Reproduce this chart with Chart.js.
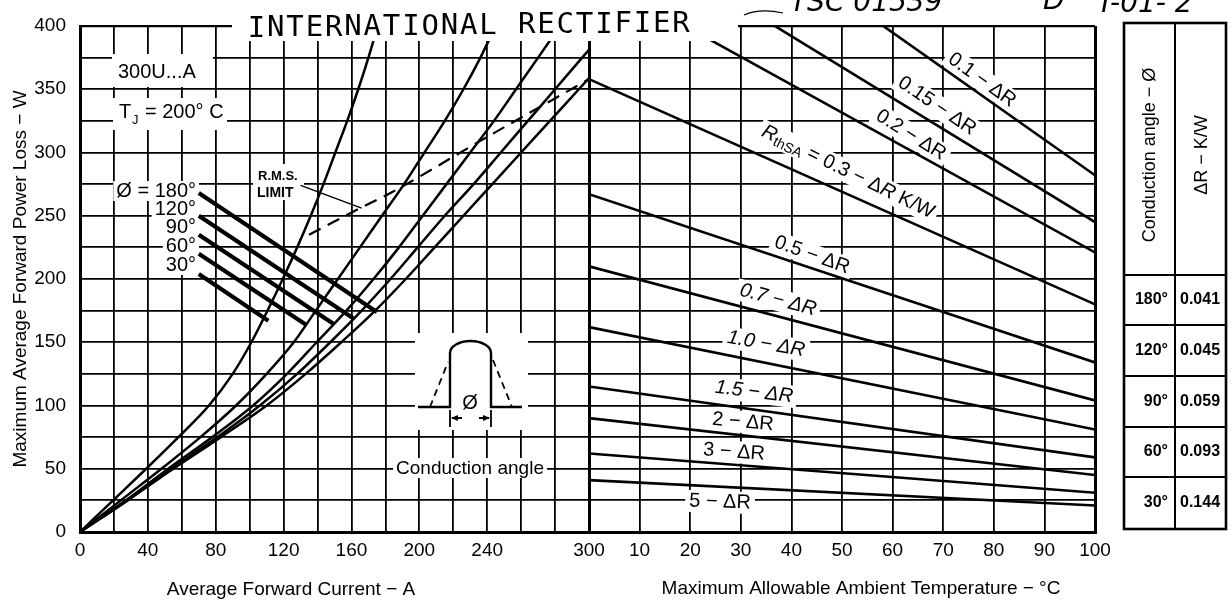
<!DOCTYPE html>
<html>
<head>
<meta charset="utf-8">
<script src="https://cdn.jsdelivr.net/npm/chart.js@4.4.0/dist/chart.umd.min.js"></script>
<style>
  html, body { margin: 0; padding: 0; background: #fff; }
  #wrap { position: relative; width: 1232px; height: 603px; }
  #wrap canvas { position: absolute; left: 0; top: 0; }
</style>
</head>
<body>
<div id="wrap">
  <canvas id="leftChart" width="1232" height="603"></canvas>
  <canvas id="rightChart" width="1232" height="603"></canvas>
</div>
<script>
// ---- left panel: power loss vs average current ----
const lossLevels = [0, 25, 50, 75, 100, 125, 150, 175, 200, 225, 250, 275, 300, 325, 350, 375, 400];
const current30  = [0, 19.5, 39, 58, 76, 90, 101, 110.5, 119.5, 128, 136, 143.5, 150.5, 157.5, 164, 170, 175.5];
const current60  = [0, 24, 48, 71, 92, 110, 126, 139, 152, 165, 178, 191, 203, 215, 226, 236, 245];
const current90  = [0, 27, 52, 78, 102, 122, 139.5, 157, 173, 188, 202, 216, 230, 244, 257, 270, 283];
const current120 = [0, 28, 54, 81, 106, 128, 147.5, 166, 183, 199, 215, 232, 248, 264, 280, 296, 312];
const current180 = [0, 28, 55, 83, 110, 133, 154, 174, 192, 209, 226, 243, 260, 277, 294, 311];

// short leader lines from the angle labels to their curves
const leaderAngles = ['30°', '60°', '90°', '120°', '180°'];
const leaderStartA = [70, 70, 70, 70, 70];
const leaderStartW = [204, 220, 235, 250, 268];
const leaderEndA   = [111, 133, 150, 161, 175];
const leaderEndW   = [167, 164, 164, 169, 174];

// r.m.s. limit (dashed) and its pointer
const rmsA = [135, 165, 183, 237, 300];
const rmsW = [235, 256, 268, 310, 358];
const rmsPointerA = [130, 166];
const rmsPointerW = [274, 256];

const currentTickLabels = [0, 40, 80, 120, 160, 200, 240, 300];
const lossTickLabels = [0, 50, 100, 150, 200, 250, 300, 350, 400];

// ---- right panel: loss vs ambient temperature for each RthSA ----
const ambientTemp = [0, 100];
const rthNames   = ['0.1', '0.15', '0.2', '0.3', '0.5', '0.7', '1.0', '1.5', '2', '3', '5'];
const lossAt0C   = [564, 490, 442, 358, 267, 210, 162, 115, 90, 62, 41];
const lossAt100C = [282, 245, 221, 180, 134, 104, 81, 59, 45, 31, 21];
const tempTickLabels = [10, 20, 30, 40, 50, 60, 70, 80, 90, 100];

// ---- table ----
const tableAngles = ['180°', '120°', '90°', '60°', '30°'];
const tableDeltaR = ['0.041', '0.045', '0.059', '0.093', '0.144'];

const FONT = '"Liberation Sans", Arial, sans-serif';
const NARROW = '"Liberation Sans Narrow", "Liberation Sans", Arial, sans-serif';

function pts(xs, ys) { return xs.map((x, i) => ({ x: x, y: ys[i] })); }

function lineSet(data, width, extra) {
  return Object.assign({
    data: data, showLine: true, borderColor: '#000', borderWidth: width,
    pointRadius: 0, pointHoverRadius: 0, fill: false, tension: 0
  }, extra || {});
}

function whiteBox(ctx, x, y, w, h) {
  ctx.fillStyle = '#fff';
  ctx.fillRect(x, y, w, h);
}

function labelText(ctx, txt, x, y, font, align) {
  ctx.font = font;
  ctx.textAlign = align || 'left';
  ctx.textBaseline = 'alphabetic';
  const w = ctx.measureText(txt).width;
  const x0 = align === 'right' ? x - w : (align === 'center' ? x - w / 2 : x);
  whiteBox(ctx, x0 - 3, y - 16, w + 6, 20);
  ctx.fillStyle = '#000';
  ctx.fillText(txt, x, y);
}

// rotated label made of parts (for subscripts)
function rotLabel(ctx, parts, cx, cy, deg) {
  ctx.save();
  ctx.translate(cx, cy);
  ctx.rotate(deg * Math.PI / 180);
  let w = 0;
  parts.forEach(p => { ctx.font = p.font; p.w = ctx.measureText(p.t).width; w += p.w; });
  whiteBox(ctx, -w / 2 - 4, -11, w + 8, 22);
  ctx.fillStyle = '#000';
  ctx.textAlign = 'left';
  ctx.textBaseline = 'middle';
  let x = -w / 2;
  parts.forEach(p => { ctx.font = p.font; ctx.fillText(p.t, x, p.dy || 0); x += p.w; });
  ctx.restore();
}

const leftDecor = {
  id: 'leftDecor',
  beforeDatasetsDraw(chart) {
    const ctx = chart.ctx;
    ctx.save();
    // device / junction temperature notes
    whiteBox(ctx, 112, 54, 101, 33);
    ctx.fillStyle = '#000';
    ctx.font = '20px ' + FONT;
    ctx.textAlign = 'left';
    ctx.textBaseline = 'alphabetic';
    ctx.fillText('300U...A', 118, 78);
    whiteBox(ctx, 113, 98, 114, 32);
    ctx.fillStyle = '#000';
    ctx.fillText('T', 119, 118);
    ctx.font = '13px ' + FONT;
    ctx.fillText('J', 132, 124);
    ctx.font = '20px ' + FONT;
    ctx.fillText('= 200° C', 145, 118);

    // conduction angle labels
    const angleText = ['Ø = 180°', '120°', '90°', '60°', '30°'];
    const angleBase = [197, 215, 233, 252, 271];
    angleText.forEach((t, i) => labelText(ctx, t, 196, angleBase[i], '20px ' + FONT, 'right'));

    // r.m.s. limit label
    whiteBox(ctx, 253, 164, 51, 36);
    ctx.fillStyle = '#000';
    ctx.font = 'bold 13px ' + NARROW;
    ctx.textAlign = 'left';
    ctx.fillText('R.M.S.', 258, 180);
    ctx.font = 'bold 14px ' + NARROW;
    ctx.fillText('LIMIT', 257, 197);

    // conduction angle inset
    whiteBox(ctx, 415, 333, 113, 97);
    ctx.strokeStyle = '#000';
    ctx.lineWidth = 2.4;
    ctx.beginPath();
    ctx.moveTo(418, 407); ctx.lineTo(450, 407); ctx.lineTo(450, 353);
    ctx.ellipse(470.5, 353, 20.5, 12, 0, Math.PI, 2 * Math.PI);
    ctx.lineTo(491, 407); ctx.lineTo(522, 407);
    ctx.stroke();
    ctx.setLineDash([7, 5]);
    ctx.lineWidth = 1.8;
    ctx.beginPath();
    ctx.moveTo(430, 407); ctx.lineTo(448, 362);
    ctx.moveTo(493, 360); ctx.lineTo(512, 407);
    ctx.stroke();
    ctx.setLineDash([]);
    ctx.lineWidth = 1.8;
    ctx.beginPath();
    ctx.moveTo(450, 410); ctx.lineTo(450, 427);
    ctx.moveTo(491, 410); ctx.lineTo(491, 427);
    ctx.moveTo(452, 418); ctx.lineTo(462, 418);
    ctx.moveTo(479, 418); ctx.lineTo(489, 418);
    ctx.stroke();
    ctx.fillStyle = '#000';
    ctx.beginPath();
    ctx.moveTo(451, 418); ctx.lineTo(458, 415); ctx.lineTo(458, 421); ctx.closePath();
    ctx.moveTo(490, 418); ctx.lineTo(483, 415); ctx.lineTo(483, 421); ctx.closePath();
    ctx.fill();
    ctx.font = '20px ' + FONT;
    ctx.textAlign = 'center';
    ctx.fillText('Ø', 470, 409);

    labelText(ctx, 'Conduction angle', 470, 474, '19px ' + FONT, 'center');

    // axis titles
    ctx.fillStyle = '#000';
    ctx.font = '19px ' + FONT;
    ctx.textAlign = 'center';
    ctx.textBaseline = 'middle';
    ctx.fillText('Average Forward Current − A', 291, 590);
    ctx.fillText('Maximum Allowable Ambient Temperature − °C', 861, 589);
    ctx.restore();
  }
};

const rightLabels = [
  { parts: ['0.1 − ΔR'], x: 982, y: 80, a: 36 },
  { parts: ['0.15 − ΔR'], x: 937, y: 106, a: 34 },
  { parts: ['0.2 − ΔR'], x: 911, y: 135, a: 32 },
  { parts: null, x: 848, y: 172, a: 26 },
  { parts: ['0.5 − ΔR'], x: 812, y: 255, a: 20 },
  { parts: ['0.7 − ΔR'], x: 778, y: 300, a: 15, it: true },
  { parts: ['1.0 − ΔR'], x: 766, y: 344, a: 10, it: true },
  { parts: ['1.5 − ΔR'], x: 754, y: 392, a: 7, it: true },
  { parts: ['2 − ΔR'], x: 743, y: 422, a: 5 },
  { parts: ['3 − ΔR'], x: 734, y: 452, a: 4 },
  { parts: ['5 − ΔR'], x: 720, y: 502, a: 2 }
];

const rightDecor = {
  id: 'rightDecor',
  beforeDatasetsDraw(chart) {
    const ctx = chart.ctx;
    rightLabels.forEach(l => {
      const f = (l.it ? 'italic ' : '') + '20px ' + FONT;
      let parts;
      if (l.parts) {
        parts = [{ t: l.parts[0], font: f }];
      } else {
        parts = [
          { t: 'R', font: 'italic 20px ' + FONT },
          { t: 'thSA', font: '14px ' + FONT, dy: 5 },
          { t: ' = 0.3 − Δ', font: '20px ' + FONT },
          { t: 'R', font: 'italic 20px ' + FONT },
          { t: ' K/W', font: '20px ' + FONT }
        ];
      }
      rotLabel(ctx, parts, l.x, l.y, l.a);
    });
  },
  afterDraw(chart) {
    const ctx = chart.ctx;
    ctx.save();
    // heading strip
    whiteBox(ctx, 232, 0, 506, 41);
    ctx.fillStyle = '#000';
    ctx.font = '29px "DejaVu Sans Mono", "Liberation Mono", monospace';
    ctx.textAlign = 'center';
    ctx.textBaseline = 'alphabetic';
    const head = 'INTERNATIONAL RECTIFIER';
    for (let i = 0; i < head.length; i++) {
      ctx.fillText(head[i], 256.5 + i * 19.3, 36.5 - i * 0.22);
    }
    // handwritten stamp (cut off at the top)
    ctx.font = 'italic 28px "DejaVu Sans", sans-serif';
    ctx.textAlign = 'left';
    ctx.fillText('TSC 01539', 790, 11);
    ctx.fillText('D', 1043, 9);
    ctx.fillText('T-01- 2', 1097, 12);
    ctx.lineWidth = 1.2;
    ctx.strokeStyle = '#000';
    ctx.beginPath();
    ctx.moveTo(744, 15); ctx.quadraticCurveTo(760, 8, 783, 13);
    ctx.stroke();

    // table
    const L = 1124, M = 1175, R = 1226, T = 23;
    const rows = [275, 325, 376, 427, 477, 529];
    ctx.strokeStyle = '#000';
    ctx.lineWidth = 2.6;
    ctx.strokeRect(L, T, R - L, rows[5] - T);
    ctx.lineWidth = 2;
    ctx.beginPath();
    ctx.moveTo(M, T); ctx.lineTo(M, rows[5]);
    for (let i = 0; i < 5; i++) { ctx.moveTo(L, rows[i]); ctx.lineTo(R, rows[i]); }
    ctx.stroke();
    ctx.fillStyle = '#000';
    ctx.save();
    ctx.translate(1150, 155);
    ctx.rotate(-Math.PI / 2);
    ctx.font = '18px ' + FONT;
    ctx.textAlign = 'center';
    ctx.textBaseline = 'middle';
    ctx.fillText('Conduction angle − Ø', 0, 0);
    ctx.restore();
    ctx.save();
    ctx.translate(1202, 155);
    ctx.rotate(-Math.PI / 2);
    ctx.font = '18px ' + FONT;
    ctx.textAlign = 'center';
    ctx.textBaseline = 'middle';
    ctx.fillText('ΔR − K/W', 0, 0);
    ctx.restore();
    ctx.font = 'bold 16px ' + NARROW;
    ctx.textBaseline = 'middle';
    tableAngles.forEach((a, i) => {
      const cy = (rows[i] + rows[i + 1]) / 2;
      ctx.textAlign = 'right';
      ctx.fillText(a, 1168, cy);
      ctx.textAlign = 'left';
      ctx.fillText(tableDeltaR[i], 1180, cy);
    });
    ctx.restore();
  }
};

const gridBase = { color: '#000', drawTicks: false };
const tickFont = { size: 19, family: FONT };

const curveSets = [
  [current30, lossLevels], [current60, lossLevels], [current90, lossLevels],
  [current120, lossLevels], [current180, lossLevels.slice(0, current180.length)]
].map(c => lineSet(pts(c[0], c[1]), 2.5, { cubicInterpolationMode: 'monotone' }));

const leaderSets = leaderAngles.map((a, i) =>
  lineSet(pts([leaderStartA[i], leaderEndA[i]], [leaderStartW[i], leaderEndW[i]]), 4.2, { label: a }));

new Chart(document.getElementById('leftChart'), {
  type: 'scatter',
  data: {
    datasets: curveSets.concat(leaderSets, [
      lineSet(pts(rmsA, rmsW), 2.2, { borderDash: [13, 8], cubicInterpolationMode: 'monotone' }),
      lineSet(pts(rmsPointerA, rmsPointerW), 1.5)
    ])
  },
  options: {
    responsive: false, animation: false, devicePixelRatio: 1,
    layout: { padding: { left: 0, right: 643, top: 26, bottom: 0 } },
    plugins: { legend: { display: false }, tooltip: { enabled: false } },
    scales: {
      x: {
        type: 'linear', min: 0, max: 300,
        afterFit(s) { s.height = 71; },
        ticks: {
          stepSize: 20, autoSkip: false, maxRotation: 0, padding: 7, color: '#000', font: tickFont,
          callback: v => currentTickLabels.includes(v) ? String(v) : ''
        },
        grid: Object.assign({}, gridBase, { lineWidth: c => (c.tick && c.tick.value === 300) ? 3 : 1.8 }),
        border: { color: '#000', width: 3 }
      },
      y: {
        type: 'linear', min: 0, max: 400,
        afterFit(s) { s.width = 80; },
        ticks: {
          stepSize: 25, autoSkip: false, padding: 14, color: '#000', font: tickFont,
          callback: v => lossTickLabels.includes(v) ? String(v) : ''
        },
        grid: Object.assign({}, gridBase, { lineWidth: c => (c.tick && c.tick.value === 400) ? 2.2 : 1.8 }),
        border: { color: '#000', width: 3 },
        title: {
          display: true, text: 'Maximum Average Forward Power Loss − W', color: '#000',
          font: { size: 19, family: FONT }, padding: { top: 9, bottom: 0 }
        }
      }
    }
  },
  plugins: [leftDecor]
});

new Chart(document.getElementById('rightChart'), {
  type: 'scatter',
  data: {
    datasets: rthNames.map((r, i) =>
      lineSet(pts(ambientTemp, [lossAt0C[i], lossAt100C[i]]), 2.6, { label: r }))
  },
  options: {
    responsive: false, animation: false, devicePixelRatio: 1,
    layout: { padding: { left: 589, right: 137, top: 26, bottom: 0 } },
    plugins: { legend: { display: false }, tooltip: { enabled: false } },
    scales: {
      x: {
        type: 'linear', min: 0, max: 100,
        afterFit(s) { s.height = 71; },
        ticks: {
          stepSize: 10, autoSkip: false, maxRotation: 0, padding: 7, color: '#000', font: tickFont,
          callback: v => tempTickLabels.includes(v) ? String(v) : ''
        },
        grid: Object.assign({}, gridBase, {
          lineWidth: c => (c.tick && (c.tick.value === 100 || c.tick.value === 0)) ? 3 : 1.8
        }),
        border: { color: '#000', width: 3 }
      },
      y: {
        type: 'linear', min: 0, max: 400,
        afterFit(s) { s.width = 0; },
        ticks: { stepSize: 25, display: false },
        grid: Object.assign({}, gridBase, { lineWidth: c => (c.tick && c.tick.value === 400) ? 2.2 : 1.8 }),
        border: { display: false }
      }
    }
  },
  plugins: [rightDecor]
});
</script>
</body>
</html>
